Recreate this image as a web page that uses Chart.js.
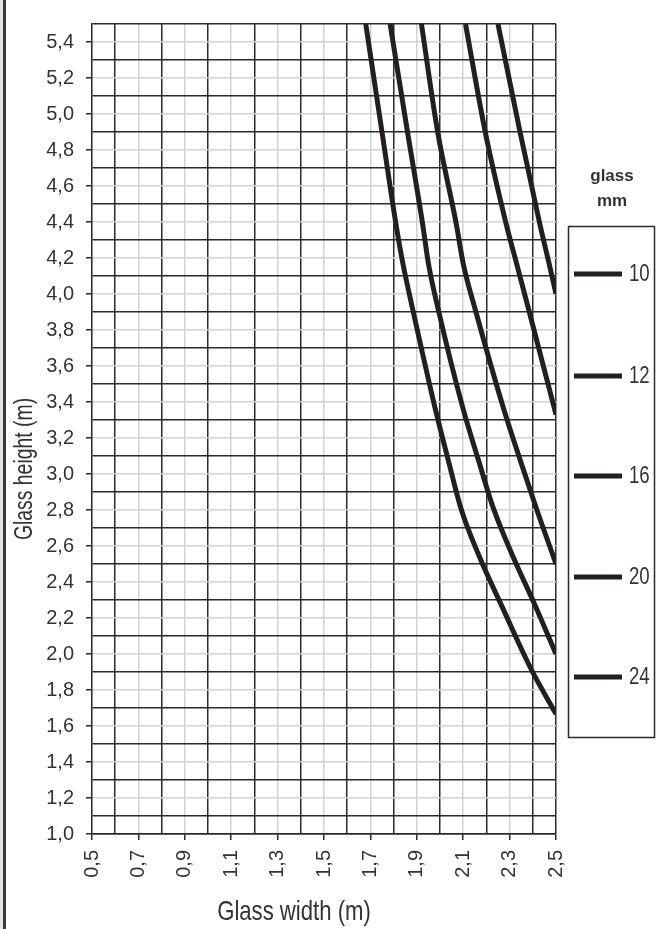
<!DOCTYPE html>
<html>
<head>
<meta charset="utf-8">
<script src="https://cdn.jsdelivr.net/npm/chart.js@4"></script>
<style>
    html, body { margin: 0; padding: 0; background: #fff; }
    #rahmen { position: relative; width: 660px; height: 929px; }
    #rahmen::before {
        content: ""; position: absolute; left: 0; top: 0; bottom: 0;
        width: 3px; background: #e4e4e4; border-right: 3px solid #3a3a3a;
    }
</style>
</head>
<body>
<div id="rahmen"><canvas id="GlasDiagramm"></canvas></div>
<script>
    // Glasdicken in mm (Reihenfolge wie in der Legende)
    const glasDicken = ["10", "12", "16", "20", "24"];

    // Grenzkurven: Glasbreite (m) -> max. Glashöhe (m)
    const breite10 = [2.25, 2.345, 2.43, 2.47, 2.5];
    const hoehe10 = [5.5, 4.9, 4.39, 4.17, 4.0];

    const breite12 = [2.11, 2.195, 2.285, 2.33, 2.385, 2.5];
    const hoehe12 = [5.5, 4.9, 4.39, 4.17, 3.9, 3.33];

    const breite16 = [1.92, 1.99, 2.07, 2.1, 2.155, 2.275, 2.345, 2.415, 2.5];
    const hoehe16 = [5.5, 4.9, 4.39, 4.17, 3.9, 3.36, 3.08, 2.81, 2.5];

    const breite20 = [1.785, 1.86, 1.925, 1.95, 1.995, 2.1, 2.165, 2.23, 2.315, 2.41, 2.5];
    const hoehe20 = [5.5, 4.9, 4.39, 4.17, 3.9, 3.36, 3.08, 2.81, 2.54, 2.27, 2.0];

    const breite24 = [1.68, 1.75, 1.81, 1.84, 1.885, 1.98, 2.035, 2.09, 2.17, 2.265, 2.395, 2.5];
    const hoehe24 = [5.5, 4.9, 4.39, 4.17, 3.9, 3.36, 3.08, 2.81, 2.54, 2.27, 1.91, 1.667];

    // Achsenbereiche
    const breiteMin = 0.5, breiteMax = 2.5;
    const hoeheMin = 1.0, hoeheMax = 5.5;

    const schrift = "'Liberation Sans', Arial, sans-serif";
    const dunkel = "#2b2b2b";
    const hell = "#d2d2d2";
    const textFarbe = "#333";
    const kurvenFarbe = "#231f20";

    const punkte = (xs, ys) => xs.map((x, i) => ({ x: x, y: ys[i] }));
    const kurven = [
        punkte(breite10, hoehe10),
        punkte(breite12, hoehe12),
        punkte(breite16, hoehe16),
        punkte(breite20, hoehe20),
        punkte(breite24, hoehe24),
    ];

    const zehntel = (v) => Math.round(v * 10);
    const komma = (v) => v.toFixed(1).replace(".", ",");

    // x: beschriftet bei 0,5 0,7 ... ; y: beschriftet bei 1,0 1,2 ...
    const xBeschriftet = (v) => zehntel(v) % 2 === 1;
    const yBeschriftet = (v) => zehntel(v) % 2 === 0;

    // schmale Schrift: normale Schrift in Laufrichtung gestaucht
    function schmalerText(ctx, text, x, y, groesse, stauchung, drehen) {
        ctx.save();
        ctx.translate(x, y);
        if (drehen) ctx.rotate(-Math.PI / 2);
        ctx.scale(stauchung, 1);
        ctx.font = groesse + "px " + schrift;
        ctx.fillText(text, 0, 0);
        ctx.restore();
    }

    const legende = {
        id: "glasLegende",
        afterDraw(chart) {
            const ctx = chart.ctx;
            ctx.save();
            ctx.fillStyle = textFarbe;
            ctx.textAlign = "center";
            ctx.textBaseline = "middle";
            ctx.font = "bold 17px " + schrift;
            ctx.fillText("glass", 612, 176);
            ctx.fillText("mm", 612, 201);

            ctx.strokeStyle = dunkel;
            ctx.lineWidth = 1.5;
            ctx.strokeRect(568.5, 226.5, 86, 511);

            const zeilen = [274, 376, 476, 577, 677];
            ctx.textAlign = "left";
            chart.data.datasets.forEach((ds, i) => {
                ctx.strokeStyle = ds.borderColor;
                ctx.lineWidth = 5;
                ctx.beginPath();
                ctx.moveTo(574, zeilen[i]);
                ctx.lineTo(622, zeilen[i]);
                ctx.stroke();
                schmalerText(ctx, ds.label, 629, zeilen[i] + 1, 23, 0.81, false);
            });

            // Achsentitel
            ctx.textAlign = "center";
            ctx.textBaseline = "alphabetic";
            schmalerText(ctx, "Glass width (m)", 294, 920, 28, 0.79, false);
            schmalerText(ctx, "Glass height (m)", 32, 469, 25.5, 0.76, true);
            ctx.restore();
        },
    };

    new Chart(document.getElementById("GlasDiagramm"), {
        type: "line",
        data: {
            datasets: kurven.map((d, i) => ({
                label: glasDicken[i],
                data: d,
                borderColor: kurvenFarbe,
                borderWidth: 5,
                pointRadius: 0,
                cubicInterpolationMode: "monotone",
                clip: 0,
            })),
        },
        options: {
            responsive: true,
            maintainAspectRatio: false,
            animation: false,
            layout: { padding: { left: 6, top: 5, right: 104, bottom: 0 } },
            plugins: { legend: { display: false }, tooltip: { enabled: false } },
            scales: {
                x: {
                    type: "linear",
                    min: breiteMin,
                    max: breiteMax,
                    ticks: {
                        stepSize: 0.1,
                        autoSkip: false,
                        minRotation: 90,
                        maxRotation: 90,
                        padding: 10,
                        color: textFarbe,
                        font: { family: schrift, size: 20 },
                        callback: (v) => (xBeschriftet(v) ? komma(v) : ""),
                    },
                    grid: {
                        lineWidth: 1.5,
                        tickLength: 6,
                        color: (c) => {
                            const n = zehntel(c.tick.value);
                            return n % 2 === 0 || n === 25 ? dunkel : hell;
                        },
                        tickColor: (c) => (xBeschriftet(c.tick.value) ? dunkel : "transparent"),
                    },
                    border: { color: dunkel, width: 1.5 },
                    afterFit(scale) { scale.height = 95; },
                },
                y: {
                    type: "linear",
                    min: hoeheMin,
                    max: hoeheMax,
                    ticks: {
                        stepSize: 0.1,
                        autoSkip: false,
                        padding: 12,
                        color: textFarbe,
                        font: { family: schrift, size: 20 },
                        callback: (v) => (yBeschriftet(v) ? komma(v) : ""),
                    },
                    grid: {
                        lineWidth: 1.5,
                        tickLength: 6,
                        color: (c) => {
                            const n = zehntel(c.tick.value);
                            return n % 2 === 1 || n === 10 ? dunkel : hell;
                        },
                        tickColor: (c) => (yBeschriftet(c.tick.value) ? dunkel : "transparent"),
                    },
                    border: { color: dunkel, width: 1.5 },
                    afterFit(scale) { scale.width = 86; },
                },
            },
        },
        plugins: [legende],
    });
</script>
</body>
</html>
